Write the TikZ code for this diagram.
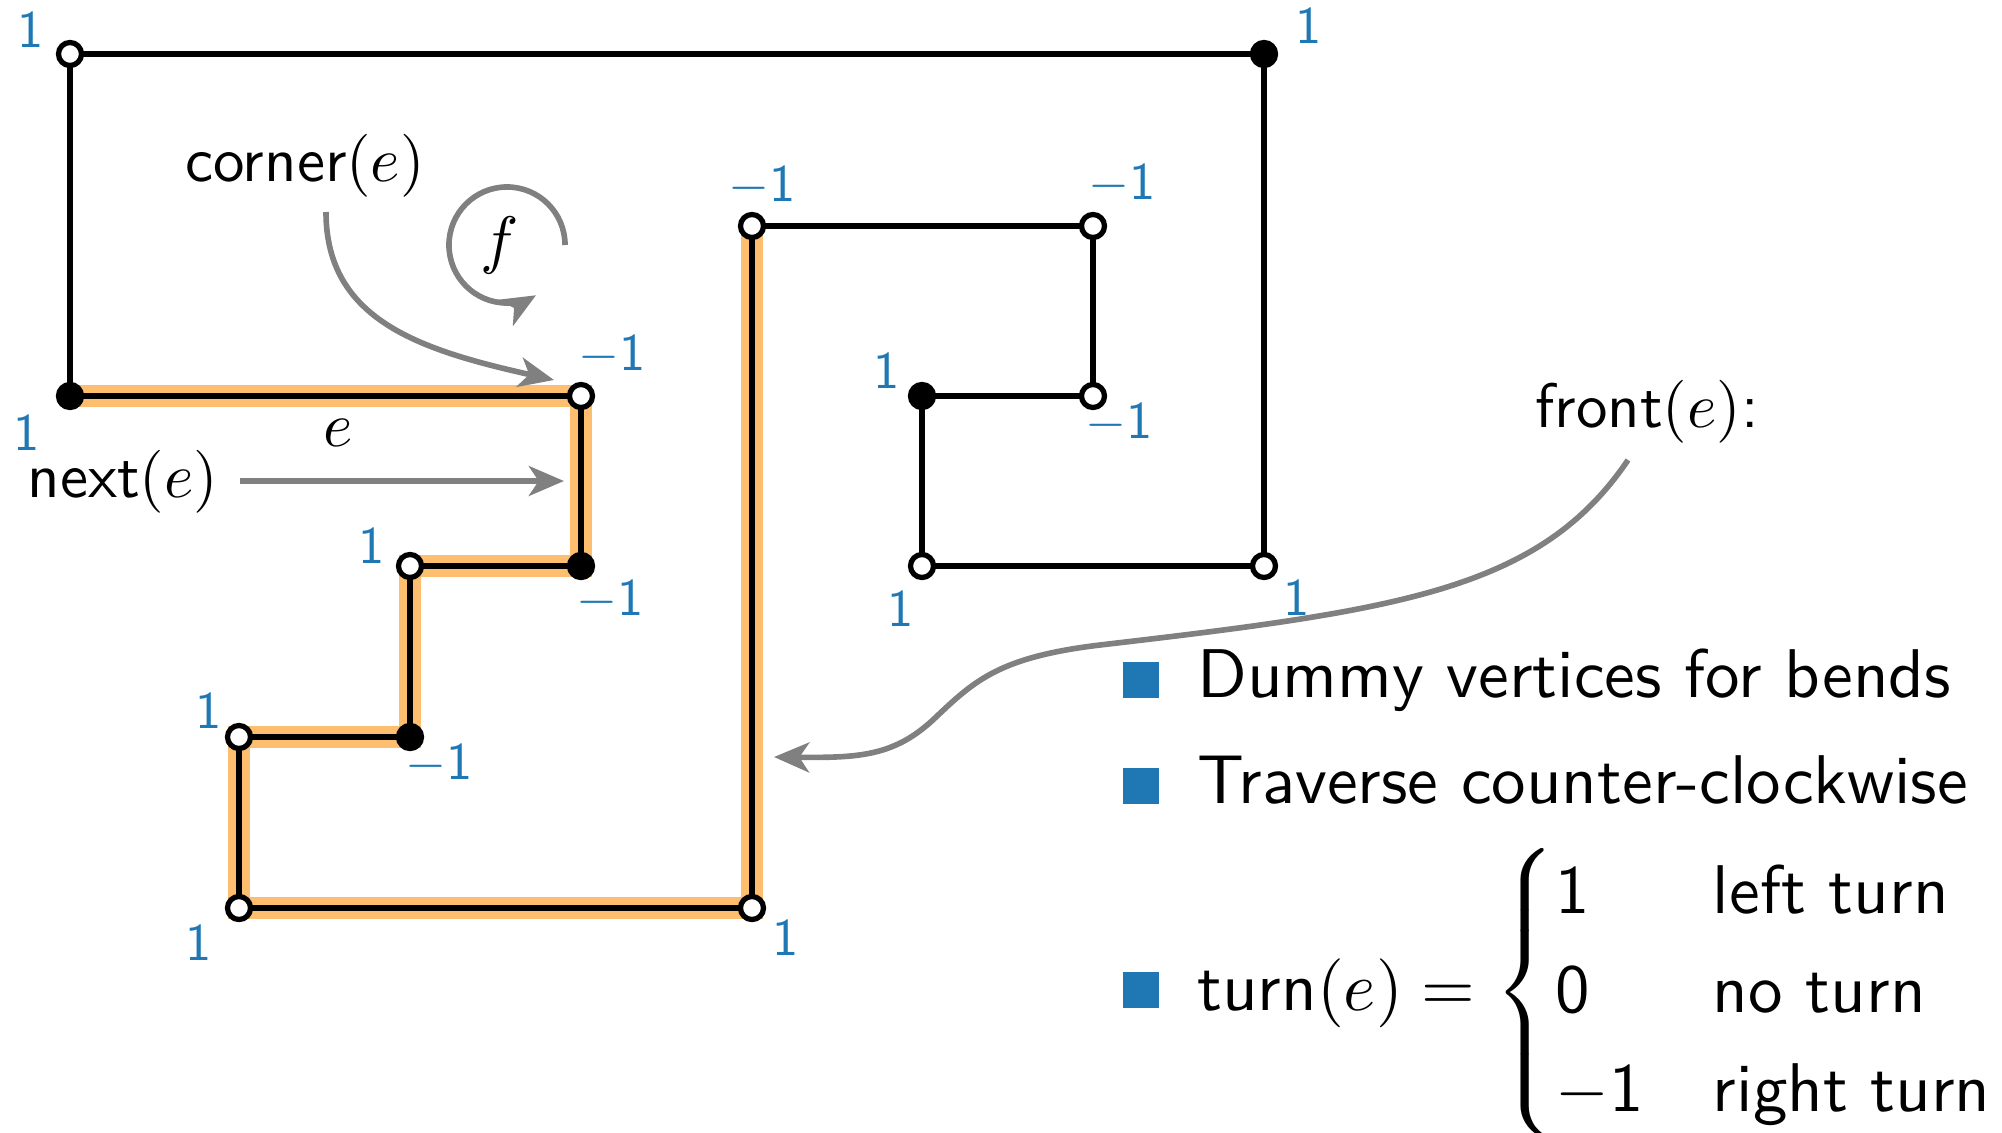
\documentclass[tikz,border=0pt]{standalone}
\usepackage{amsmath}
\usetikzlibrary{arrows.meta}
\definecolor{lblue}{HTML}{1F78B4}
\definecolor{horange}{HTML}{FDBF6F}
\definecolor{agray}{HTML}{808080}
\begin{document}
\begin{tikzpicture}[x=0.01cm,y=-0.01cm,
  graphedge/.style={line width=1.9pt,line join=miter},
  hl/.style={horange,line width=6.3pt,line join=miter},
  wv/.style={circle,draw=black,fill=white,line width=1.5pt,minimum size=0.23cm,inner sep=0pt},
  bv/.style={wv,fill=black},
  num/.style={text=lblue,font=\sffamily,transform shape,scale=1.5,inner sep=0pt},
  lab/.style={font=\sffamily,transform shape,scale=1.79,inner sep=0pt},
  listitem/.style={font=\sffamily,transform shape,scale=1.96,inner sep=0pt,anchor=base west},
  garrow/.style={agray,line width=1.6pt,-{Stealth[length=10pt,width=8.5pt,inset=2.8pt]}},
  sqbullet/.style={fill=lblue,minimum size=0.36cm,inner sep=0pt}
]
\useasboundingbox (0,0) rectangle (2002,1133);
% vertex positions
\coordinate (A) at (70,54);
\coordinate (B) at (1264,54);
\coordinate (C) at (70,396);
\coordinate (D) at (581,396);
\coordinate (E) at (581,566);
\coordinate (F) at (410,566);
\coordinate (G) at (410,737);
\coordinate (H) at (239,737);
\coordinate (I) at (239,908);
\coordinate (J) at (752,908);
\coordinate (K) at (752,226);
\coordinate (L) at (1093,226);
\coordinate (M) at (1093,396);
\coordinate (N) at (922,396);
\coordinate (O) at (922,566);
\coordinate (P) at (1264,566);
% highlighted path
\draw[hl] (C) -- (D) -- (E) -- (F) -- (G) -- (H) -- (I) -- (J) -- (K);
% edges
\draw[graphedge] (A) -- (B) -- (P) -- (O) -- (N) -- (M) -- (L) -- (K) -- (J) -- (I) -- (H) -- (G) -- (F) -- (E) -- (D) -- (C) -- cycle;
% vertices
\node[wv] (vA) at (A) {};
\node[bv] (vB) at (B) {};
\node[bv] (vC) at (C) {};
\node[wv] (vD) at (D) {};
\node[bv] (vE) at (E) {};
\node[wv] (vF) at (F) {};
\node[bv] (vG) at (G) {};
\node[wv] (vH) at (H) {};
\node[wv] (vI) at (I) {};
\node[wv] (vJ) at (J) {};
\node[wv] (vK) at (K) {};
\node[wv] (vL) at (L) {};
\node[wv] (vM) at (M) {};
\node[bv] (vN) at (N) {};
\node[wv] (vO) at (O) {};
\node[wv] (vP) at (P) {};
% turn labels
\node[num] (nA) at (31,30) {1};
\node[num] (nB) at (1309,26) {1};
\node[num] (nC) at (27,433) {1};
\node[num] (nD) at (612,355) {$-$1};
\node[num] (nE) at (610,600) {$-$1};
\node[num] (nF) at (372,546) {1};
\node[num] (nG) at (439,764) {$-$1};
\node[num] (nH) at (209,711) {1};
\node[num] (nI) at (199,943) {1};
\node[num] (nJ) at (786,938) {1};
\node[num] (nK) at (762,186) {$-$1};
\node[num] (nL) at (1122,184) {$-$1};
\node[num] (nM) at (1119,423) {$-$1};
\node[num] (nN) at (887,371) {1};
\node[num] (nO) at (901,609) {1};
\node[num] (nP) at (1297,598) {1};
% annotations
\node[lab] (corner) at (305,166) {corner$(e)$};
\node[lab] (next) at (123,482) {next$(e)$};
\node[lab] (front) at (1647,412) {front$(e)$:};
\node[lab] (elab) at (338,433) {$e$};
\coordinate (fc) at (507,245);
\node[lab,scale=1.02] (flab) at (500,245) {$f$};
\draw[garrow] ([shift={(0:0.58cm)}]fc) arc[start angle=0,end angle=300,radius=0.58cm];
\coordinate (cs) at (326,212);
\coordinate (ct) at (554,380);
\draw[garrow] (cs) .. controls (326,320) and (420,350) .. (ct);
\coordinate (ns) at (240,481);
\coordinate (nt) at (564,481);
\draw[garrow] (ns) -- (nt);
\coordinate (fs) at (1628,460);
\coordinate (fm1) at (1100,645);
\coordinate (fm2) at (935,718);
\coordinate (ft) at (774,757);
\draw[garrow] (fs) .. controls (1540,590) and (1400,610) .. (fm1)
  .. controls (1000,657) and (975,680) .. (fm2)
  .. controls (895,756) and (860,758) .. (ft);
% bullet list
\node[sqbullet] (b1) at (1141,680) {};
\node[sqbullet] (b2) at (1141,786) {};
\node[sqbullet] (b3) at (1141,990) {};
\node[listitem] (t1) at (1196,697) {Dummy vertices for bends};
\node[listitem] (t2) at (1196,803) {Traverse counter-clockwise};
\node[listitem] (t3) at (1196,1010) {turn$(e) = \begin{cases} \mathsf{1} & \text{left turn}\\ \mathsf{0} & \text{no turn}\\ -\mathsf{1} & \text{right turn}\end{cases}$};
\end{tikzpicture}
\end{document}
